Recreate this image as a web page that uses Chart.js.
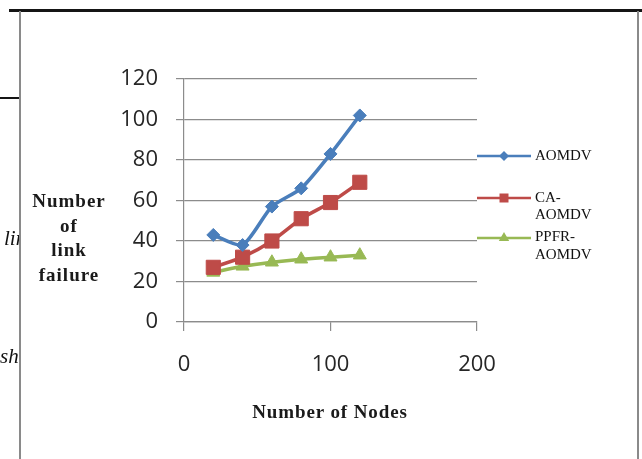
<!DOCTYPE html>
<html>
<head>
<meta charset="utf-8">
<script src="https://cdn.jsdelivr.net/npm/chart.js@4/dist/chart.umd.min.js"></script>
<style>
  html, body { margin: 0; padding: 0; background: #fff; }
  #wrap { position: relative; width: 642px; height: 459px; overflow: hidden; background: #fff; }
  #chart { position: absolute; left: 0; top: 0; }
  .rule { position: absolute; }
  .frag { position: absolute; left: 0; width: 19px; overflow: hidden; white-space: nowrap;
          font: italic 21px "Liberation Serif", serif; color: #111; }
  .ytitle { position: absolute; left: 20px; width: 98px; top: 189px; text-align: center;
            font: bold 19px "Liberation Serif", serif; line-height: 24.5px; letter-spacing: 1px; color: #1a1a1a; }
  .xtitle { position: absolute; left: 180px; width: 300px; top: 401px; text-align: center;
            font: bold 19px "Liberation Serif", serif; letter-spacing: 0.9px; color: #1a1a1a; }
</style>
</head>
<body>
<div id="wrap">
  <canvas id="chart" width="642" height="459"></canvas>
  <div class="rule" style="left:9px;top:9px;width:633px;height:3px;background:#151515;"></div>
  <div class="rule" style="left:0;top:97px;width:20px;height:2px;background:#151515;"></div>
  <div class="rule" style="left:19px;top:11px;width:2px;height:448px;background:#8a8a8a;"></div>
  <div class="rule" style="left:637px;top:11px;width:2px;height:448px;background:#8a8a8a;"></div>
  <div class="frag" style="top:226px;"><span style="margin-left:4px">lin</span></div>
  <div class="frag" style="top:344px;">sh</div>
  <div class="ytitle">Number<br>of<br>link<br>failure</div>
  <div class="xtitle">Number of Nodes</div>
</div>
<script>
// Number of nodes (x) and link failures per protocol (y)
const nodes      = [20, 40, 60, 80, 100, 120];
const aomdv      = [43, 38, 57, 66, 83, 102];
const caAomdv    = [27, 32, 40, 51, 59, 69];
const ppfrAomdv  = [24.5, 27.5, 29.5, 31, 32, 33];

const seriesNames = ['AOMDV', 'CA-AOMDV', 'PPFR-AOMDV'];
const legendLines = [['AOMDV'], ['CA-', 'AOMDV'], ['PPFR-', 'AOMDV']];
const seriesColors = ['#4a7ebb', '#be4b48', '#98b954'];

const yMin = 0, yMax = 120, yStep = 20;
const xMin = 0, xMax = 200, xStep = 100;

const toPoints = ys => nodes.map((x, i) => ({ x: x, y: ys[i] }));

function drawMarker(ctx, style, x, y, r) {
  ctx.beginPath();
  if (style === 'rectRot') {
    ctx.moveTo(x - r, y); ctx.lineTo(x, y - r); ctx.lineTo(x + r, y); ctx.lineTo(x, y + r);
  } else if (style === 'rect') {
    ctx.rect(x - r, y - r, 2 * r, 2 * r);
  } else {
    ctx.moveTo(x, y - r);
    ctx.lineTo(x + 0.866 * r, y + 0.5 * r);
    ctx.lineTo(x - 0.866 * r, y + 0.5 * r);
  }
  ctx.closePath();
  ctx.fill();
}

// Legend at the right of the plot: line sample, marker and wrapped label
const sideLegend = {
  id: 'sideLegend',
  afterDraw(chart) {
    const ctx = chart.ctx;
    const rows = [
      { y: 156, text: [156.5], style: 'rectRot', r: 5 },
      { y: 198, text: [198, 215], style: 'rect', r: 4.5 },
      { y: 238, text: [237, 255], style: 'triangle', r: 6 }
    ];
    ctx.save();
    rows.forEach((row, i) => {
      const c = seriesColors[i];
      ctx.strokeStyle = c; ctx.fillStyle = c; ctx.lineWidth = 2.6;
      ctx.beginPath(); ctx.moveTo(477, row.y); ctx.lineTo(531, row.y); ctx.stroke();
      drawMarker(ctx, row.style, 504, row.y, row.r);
      ctx.fillStyle = '#111';
      ctx.font = '15px "Liberation Serif", serif';
      ctx.textBaseline = 'middle';
      ctx.textAlign = 'left';
      legendLines[i].forEach((t, k) => ctx.fillText(t, 535, row.text[k]));
    });
    ctx.restore();
  }
};

const mkSet = (label, data, color, style, radius) => ({
  label: label,
  data: toPoints(data),
  borderColor: color,
  backgroundColor: color,
  borderWidth: 3.6,
  pointStyle: style,
  pointRadius: radius,
  pointHoverRadius: radius,
  pointBorderWidth: 1,
  pointBorderColor: color,
  pointBackgroundColor: color,
  showLine: true,
  tension: 0.22,
  fill: false
});

new Chart(document.getElementById('chart'), {
  type: 'scatter',
  data: {
    datasets: [
      mkSet(seriesNames[0], aomdv, seriesColors[0], 'rectRot', 6.5),
      mkSet(seriesNames[1], caAomdv, seriesColors[1], 'rect', 10),
      mkSet(seriesNames[2], ppfrAomdv, seriesColors[2], 'triangle', 7.5)
    ]
  },
  options: {
    responsive: false,
    animation: false,
    devicePixelRatio: 1,
    layout: { padding: { left: 100, right: 165, top: 79, bottom: 77 } },
    plugins: { legend: { display: false }, tooltip: { enabled: false } },
    scales: {
      x: {
        type: 'linear', min: xMin, max: xMax,
        afterFit: s => { s.height = 60; },
        ticks: { stepSize: xStep, padding: 21, color: '#262626',
                 font: { family: '"Open Sans", sans-serif', size: 22 }, maxRotation: 0 },
        grid: { drawOnChartArea: false, drawTicks: true, tickLength: 9, color: '#8c8c8c', lineWidth: 1.2 },
        border: { color: '#8c8c8c', width: 1.2 }
      },
      y: {
        type: 'linear', min: yMin, max: yMax,
        afterFit: s => { s.width = 84; },
        ticks: { stepSize: yStep, padding: 18, color: '#262626',
                 font: { family: '"Open Sans", sans-serif', size: 22 } },
        grid: { drawTicks: true, tickLength: 8, color: '#8c8c8c', lineWidth: 1.2 },
        border: { color: '#8c8c8c', width: 1.2 }
      }
    }
  },
  plugins: [sideLegend]
});
</script>
</body>
</html>
